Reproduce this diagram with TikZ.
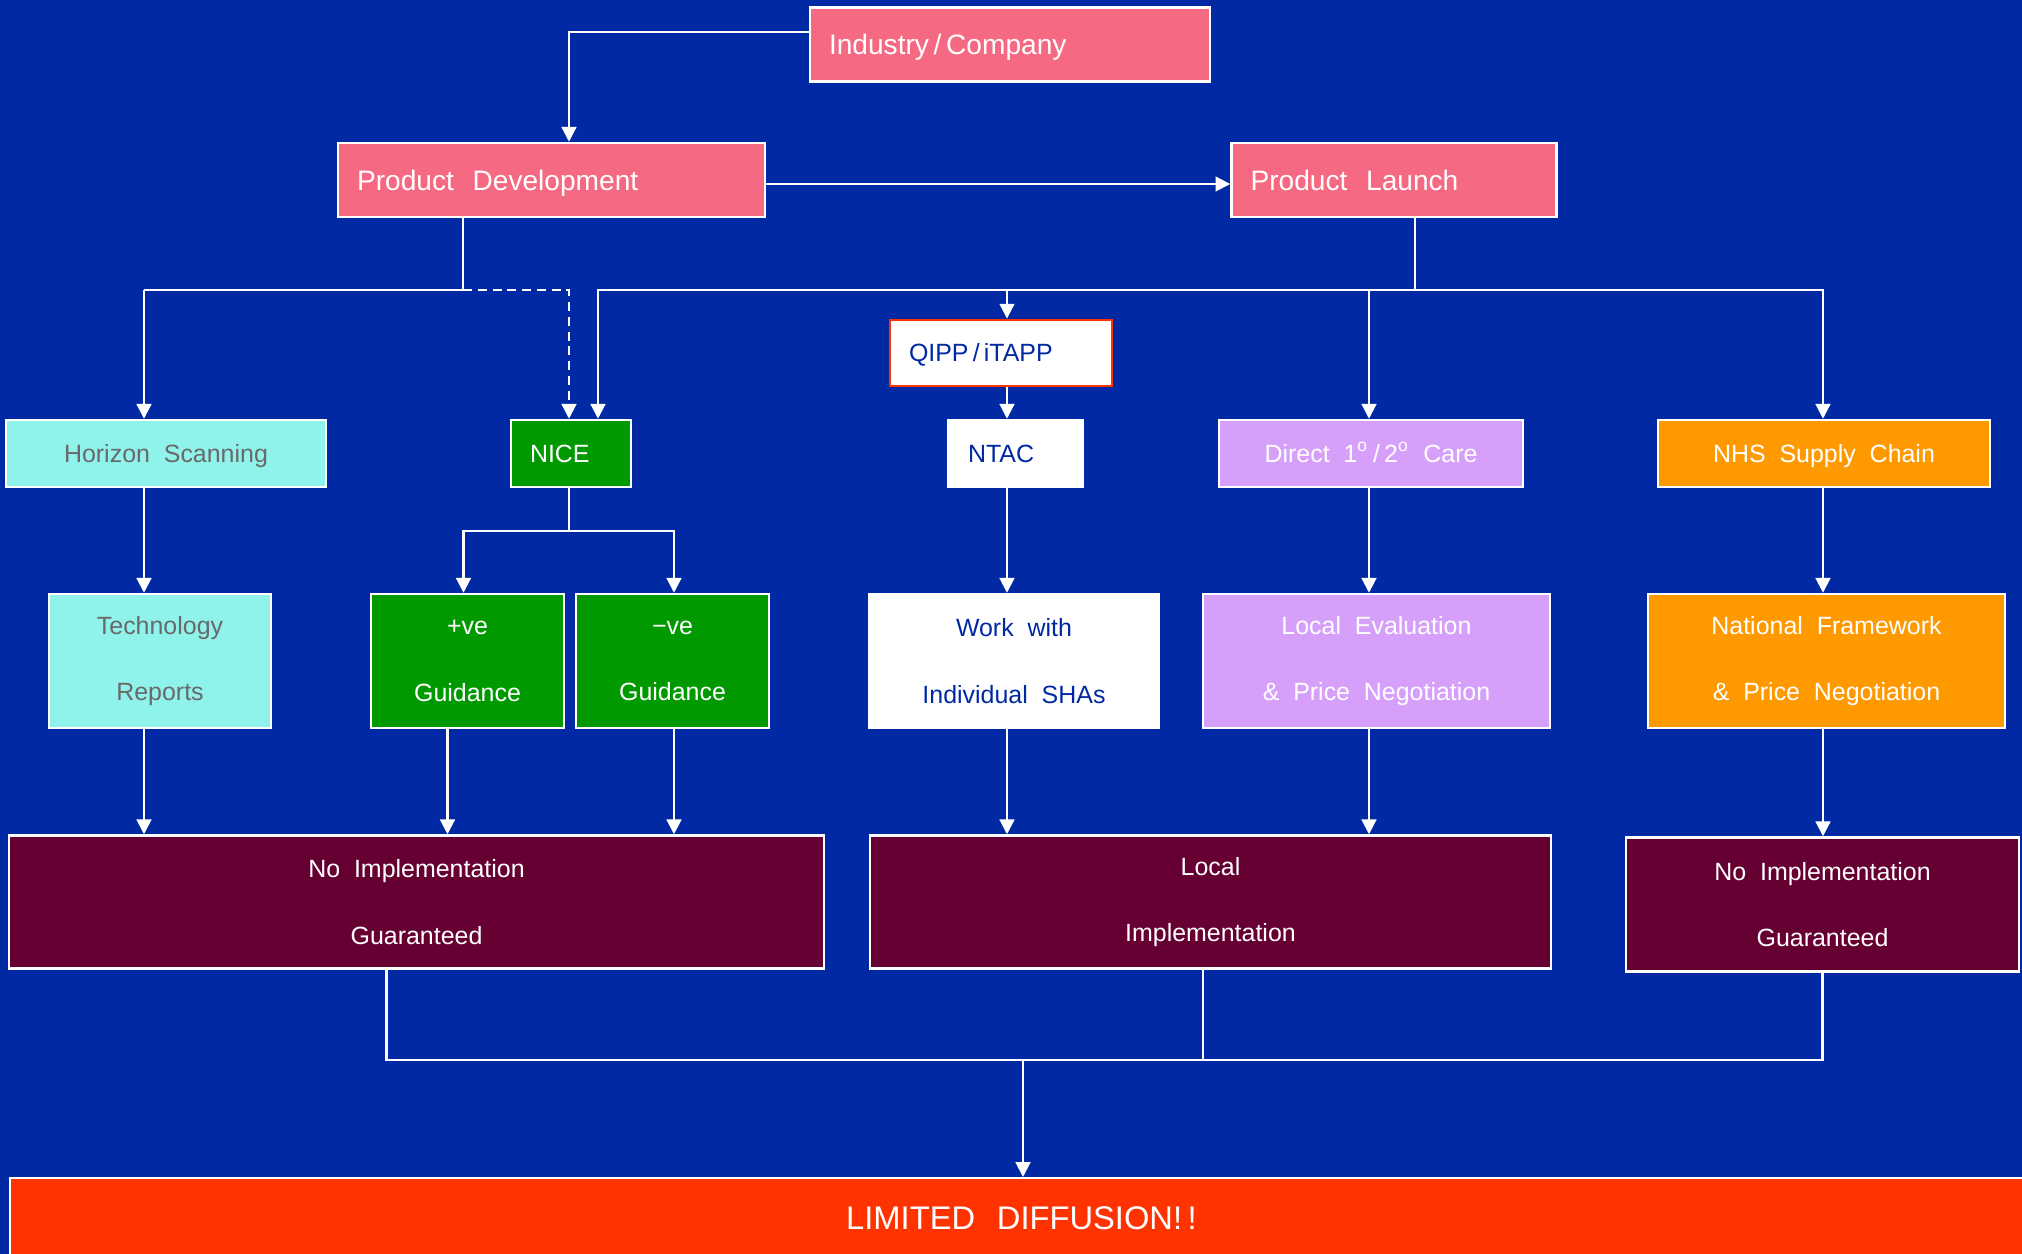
\documentclass[tikz,border=0pt]{standalone}
\usepackage{fontspec}
\setmainfont{Liberation Sans}
\usetikzlibrary{arrows.meta}
\usetikzlibrary{calc}

\definecolor{bgblue}{RGB}{0,41,163}
\definecolor{boxpink}{RGB}{246,105,131}
\definecolor{boxcyan}{RGB}{143,243,236}
\definecolor{textgray}{RGB}{105,105,105}
\definecolor{boxgreen}{RGB}{0,153,0}
\definecolor{boxlilac}{RGB}{214,160,250}
\definecolor{boxorange}{RGB}{255,153,0}
\definecolor{boxdark}{RGB}{102,0,51}
\definecolor{boxred}{RGB}{255,51,0}

\begin{document}
\begin{tikzpicture}[%
>={Triangle[length=4.2pt,width=4.2pt]},
box/.style={draw=white, line width=0.7pt, inner sep=0pt, align=center, font=\fontsize{7.1}{19}\selectfont},
oneline/.style={text height=6.4pt, text depth=1.3pt},
lefttext/.style={align=left, inner xsep=0.19cm},
pinkbox/.style={box, fill=boxpink, text=white, minimum height=0.74cm, font=\fontsize{8}{19}\selectfont, text height=7.2pt, text depth=1.45pt},
cyanbox/.style={box, fill=boxcyan, text=textgray},
greenbox/.style={box, fill=boxgreen, text=white},
whitebox/.style={box, fill=white, text=bgblue},
lilacbox/.style={box, fill=boxlilac, text=white},
orangebox/.style={box, fill=boxorange, text=white},
darkbox/.style={box, fill=boxdark, text=white},
conn/.style={draw=white, line width=0.6pt},
arrow/.style={conn, ->},
]

\pgfmathsetmacro{\rowone}{0.67}
\pgfmathsetmacro{\rowtwo}{1.34}
\pgfmathsetmacro{\rowthree}{1.33}

\useasboundingbox (0,0) rectangle (20.22,-12.54);
\fill[bgblue] (0,0) rectangle (20.22,-12.54);
\clip (0,0) rectangle (20.22,-12.54);

% top
\node[pinkbox, lefttext, text width=3.62cm] (ind) at (10.10,-0.445) {Industry\,/\,Company};
\node[pinkbox, lefttext, text width=3.89cm] (pd) at (5.515,-1.80) {Product~ Development};
\node[pinkbox, lefttext, text width=2.87cm] (pl) at (13.94,-1.80) {Product~ Launch};

\node[whitebox, oneline, draw=boxred, line width=0.8pt, lefttext, text width=1.84cm, minimum height=0.66cm] (qipp) at (10.01,-3.53) {QIPP\,/\,iTAPP};

% first row
\node[cyanbox, oneline, minimum width=3.20cm, minimum height=\rowone cm] (hs) at (1.66,-4.535) {Horizon~ Scanning};
\node[greenbox, oneline, lefttext, text width=0.82cm, minimum height=\rowone cm] (nice) at (5.71,-4.535) {NICE};
\node[whitebox, oneline, draw=white, lefttext, inner xsep=0.2cm, text width=0.95cm, minimum height=\rowone cm] (ntac) at (10.155,-4.535) {NTAC};
\node[lilacbox, oneline, minimum width=3.04cm, minimum height=\rowone cm] (direct) at (13.71,-4.535) {Direct~ 1\textsuperscript{o}\,/\,2\textsuperscript{o}~ Care};
\node[orangebox, oneline, minimum width=3.32cm, minimum height=\rowone cm] (nhs) at (18.24,-4.535) {NHS~ Supply~ Chain};

% second row
\node[cyanbox, minimum width=2.22cm, minimum height=\rowtwo cm] (tech) at (1.60,-6.61) {Technology\\Reports};
\node[greenbox, minimum width=1.93cm, minimum height=\rowtwo cm] (pos) at (4.675,-6.61) {+ve\\Guidance};
\node[greenbox, minimum width=1.93cm, minimum height=\rowtwo cm] (neg) at (6.725,-6.61) {−ve\\Guidance};
\node[whitebox, minimum width=2.90cm, minimum height=\rowtwo cm] (work) at (10.14,-6.61) {Work~ with\\Individual~ SHAs};
\node[lilacbox, minimum width=3.47cm, minimum height=\rowtwo cm] (leval) at (13.765,-6.61) {Local~ Evaluation\\\&~ Price~ Negotiation};
\node[orangebox, minimum width=3.57cm, minimum height=\rowtwo cm] (natfw) at (18.265,-6.61) {National~ Framework\\\&~ Price~ Negotiation};

% third row
\node[darkbox, minimum width=8.15cm, minimum height=\rowthree cm] (noimpl) at (4.165,-9.02) {No~ Implementation\\Guaranteed};
\node[darkbox, minimum width=6.81cm, minimum height=\rowthree cm] (localimpl) at (12.105,-9.02) {Local\\Implementation};
\node[darkbox, minimum width=3.93cm, minimum height=1.34cm] (noimplb) at (18.225,-9.045) {No~ Implementation\\Guaranteed};

\node[box, fill=boxred, text=white, anchor=north west, font=\fontsize{9.3}{11}\selectfont, minimum height=0.80cm, align=left, inner xsep=8.36cm, text width=3.7cm] (limited) at (0.09,-11.77) {LIMITED~ DIFFUSION!\,!};

% junctions and columns
\coordinate (pdjoin) at (4.63,-2.90);
\coordinate (pljoin) at (14.15,-2.90);
\coordinate (hscol) at (1.44,-2.90);
\coordinate (nicecol) at (5.69,-2.90);
\coordinate (midcol) at (10.07,-2.90);
\coordinate (carecol) at (13.69,-2.90);
\coordinate (nhscol) at (18.23,-2.90);
\coordinate (nicesplit) at (5.69,-5.31);
\coordinate (bottomjoin) at (10.23,-10.60);

\draw[arrow] ([yshift=1.25mm]ind.west) -| (nicecol |- pd.north);
\draw[arrow] ([yshift=-0.4mm]pd.east) -- ([yshift=-0.4mm]pl.west);

\draw[conn] (pdjoin |- pd.south) -- (pdjoin) -- (hscol);
\draw[arrow] (hscol) -- (hscol |- hs.north);
\draw[arrow, dash pattern=on 2.6pt off 1.6pt] (pdjoin) -- (nicecol) -- (nicecol |- nice.north);

\draw[conn] (pljoin |- pl.south) -- (pljoin);
\draw[arrow] (pljoin) -| ([xshift=2.7mm]nice.north);
\draw[arrow] (pljoin) -| (nhscol |- nhs.north);
\draw[arrow] (midcol) -- (midcol |- qipp.north);
\draw[arrow] (carecol) -- (carecol |- direct.north);
\draw[arrow] (midcol |- qipp.south) -- (midcol |- ntac.north);

\draw[arrow] (hscol |- hs.south) -- (hscol |- tech.north);
\draw[conn] (nicecol |- nice.south) -- (nicesplit);
\draw[arrow] (nicesplit) -| ([xshift=-0.4mm]pos.north);
\draw[arrow] (nicesplit) -| ([xshift=0.15mm]neg.north);
\draw[arrow] (midcol |- ntac.south) -- (midcol |- work.north);
\draw[arrow] (carecol |- direct.south) -- (carecol |- leval.north);
\draw[arrow] (nhscol |- nhs.south) -- (nhscol |- natfw.north);

\draw[arrow] (hscol |- tech.south) -- (hscol |- noimpl.north);
\draw[arrow] ([xshift=-2mm]pos.south) -- ([xshift=-2mm]pos.south |- noimpl.north);
\draw[arrow] ([xshift=0.15mm]neg.south) -- ([xshift=0.15mm]neg.south |- noimpl.north);
\draw[arrow] (midcol |- work.south) -- (midcol |- localimpl.north);
\draw[arrow] (carecol |- leval.south) -- (carecol |- localimpl.north);
\draw[arrow] (nhscol |- natfw.south) -- (nhscol |- noimplb.north);

\draw[conn] ([xshift=-3mm]noimpl.south) |- (noimplb.south |- bottomjoin) -- (noimplb.south);
\draw[conn] ([xshift=-0.75mm]localimpl.south) -- ([xshift=-0.75mm]localimpl.south |- bottomjoin);
\draw[arrow] (bottomjoin) -- (bottomjoin |- limited.north);

\end{tikzpicture}
\end{document}
